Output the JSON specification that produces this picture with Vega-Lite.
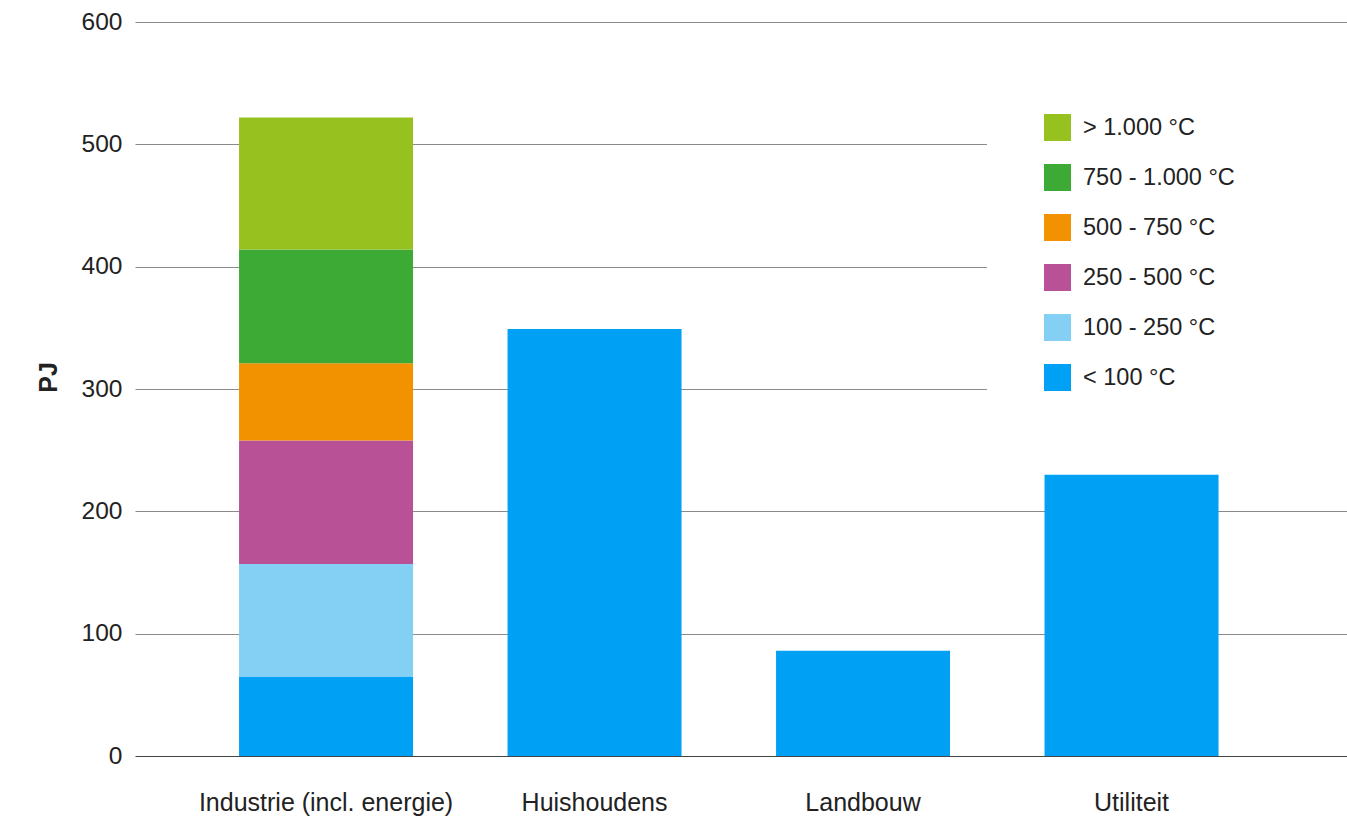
{
  "$schema": "https://vega.github.io/schema/vega-lite/v6.json",
  "width": 1212,
  "height": 734,
  "autosize": {"type": "none"},
  "padding": {"left": 135, "top": 22, "right": 0, "bottom": 62},
  "background": "white",
  "config": {
    "view": {"stroke": null},
    "font": "Liberation Sans"
  },
  "data": {
    "values": [
      {"sector": "Industrie (incl. energie)", "temperatuur": "< 100 °C", "rang": 1, "pj": 65},
      {"sector": "Industrie (incl. energie)", "temperatuur": "100 - 250 °C", "rang": 2, "pj": 92},
      {"sector": "Industrie (incl. energie)", "temperatuur": "250 - 500 °C", "rang": 3, "pj": 101},
      {"sector": "Industrie (incl. energie)", "temperatuur": "500 - 750 °C", "rang": 4, "pj": 63},
      {"sector": "Industrie (incl. energie)", "temperatuur": "750 - 1.000 °C", "rang": 5, "pj": 93},
      {"sector": "Industrie (incl. energie)", "temperatuur": "> 1.000 °C", "rang": 6, "pj": 108},
      {"sector": "Huishoudens", "temperatuur": "< 100 °C", "rang": 1, "pj": 349},
      {"sector": "Landbouw", "temperatuur": "< 100 °C", "rang": 1, "pj": 86},
      {"sector": "Utiliteit", "temperatuur": "< 100 °C", "rang": 1, "pj": 230}
    ]
  },
  "mark": {"type": "bar"},
  "encoding": {
    "x": {
      "field": "sector",
      "type": "nominal",
      "sort": ["Industrie (incl. energie)", "Huishoudens", "Landbouw", "Utiliteit"],
      "scale": {"paddingInner": 0.352, "paddingOuter": 0.433, "align": 0.4475},
      "axis": {
        "title": null,
        "labelAngle": 0,
        "domain": false,
        "ticks": false,
        "grid": false,
        "labelPadding": 34,
        "labelFontSize": 25,
        "labelLimit": 0,
        "labelColor": "#222222"
      }
    },
    "y": {
      "field": "pj",
      "type": "quantitative",
      "stack": "zero",
      "scale": {"domain": [0, 600], "nice": false},
      "axis": {
        "values": [0, 100, 200, 300, 400, 500, 600],
        "title": "PJ",
        "titleFontSize": 25,
        "titleFontWeight": "bold",
        "titleColor": "#222222",
        "titlePadding": 20,
        "titleY": 355,
        "domain": false,
        "ticks": false,
        "labelPadding": 13,
        "labelFontSize": 24.5,
        "labelColor": "#222222",
        "grid": true,
        "gridWidth": 1.2,
        "gridColor": {"condition": {"test": "datum.value === 0", "value": "#444444"}, "value": "#8a8a8a"}
      }
    },
    "color": {
      "field": "temperatuur",
      "type": "nominal",
      "scale": {
        "domain": ["> 1.000 °C", "750 - 1.000 °C", "500 - 750 °C", "250 - 500 °C", "100 - 250 °C", "< 100 °C"],
        "range": ["#97c11f", "#3daa35", "#f39200", "#b85196", "#84d0f5", "#00a0f4"]
      },
      "legend": {
        "orient": "none",
        "legendX": 852,
        "legendY": 35,
        "title": " ",
        "titleOrient": "right",
        "titlePadding": 90,
        "titleFontSize": 10,
        "fillColor": "white",
        "padding": 57,
        "symbolType": "square",
        "symbolSize": 729,
        "symbolStrokeWidth": 0,
        "symbolOpacity": 1,
        "labelFontSize": 23.5,
        "labelColor": "#222222",
        "labelOffset": 12,
        "rowPadding": 23
      }
    },
    "order": {"field": "rang", "type": "quantitative"}
  }
}
